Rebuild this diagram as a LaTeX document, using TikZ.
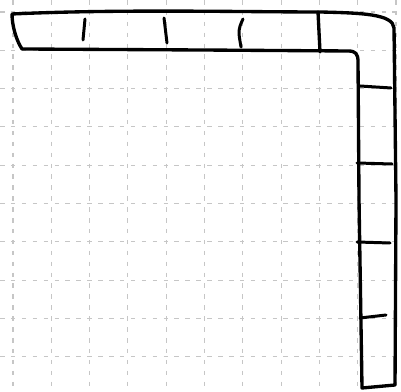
\documentclass[tikz,border=0pt]{standalone}
\usetikzlibrary{calc}

\begin{document}
\begin{tikzpicture}[
  x=0.01cm, y=-0.01cm,
  gridline/.style={gray!45, line width=0.3pt, dash pattern=on 1.3pt off 1.8pt},
  pen/.style={black, line width=0.95pt, line cap=round, line join=round},
  tick/.style={black, line width=0.85pt, line cap=round}
]
\useasboundingbox (0,0) rectangle (401,392);

% dotted paper
\foreach \k in {0,...,10} {
  \draw[gridline] ({13+38.3*\k},0) -- ({13+38.3*\k},392);
  \draw[gridline] (0,{12+38.3*\k}) -- (401,{12+38.3*\k});
}

% the L-shaped strip
\draw[pen] (12,14) .. controls (120,9) and (240,12) .. (320,12)
  .. controls (362,13) and (393,14) .. (394,28)
  -- (396,200) -- (395,385) -- (362,388) -- (359,200) -- (358,62)
  .. controls (358,54) and (356,51) .. (348,51)
  -- (200,50) -- (22,49)
  .. controls (16,40) and (12,25) .. (12,14) -- cycle;

% cells along the top
\draw[tick] (85,19) -- (83,40);
\draw[tick] (164,18) -- (167,43);
\draw[tick] (243,19) .. controls (238,30) .. (241,47);
\draw[pen] (318,12) -- (320,52);

% cells down the side
\draw[tick] (360,86) -- (391,88);
\draw[tick] (357,163) -- (392,164);
\draw[tick] (357,242) -- (390,243);
\draw[tick] (360,318) -- (386,315);

\end{tikzpicture}
\end{document}
